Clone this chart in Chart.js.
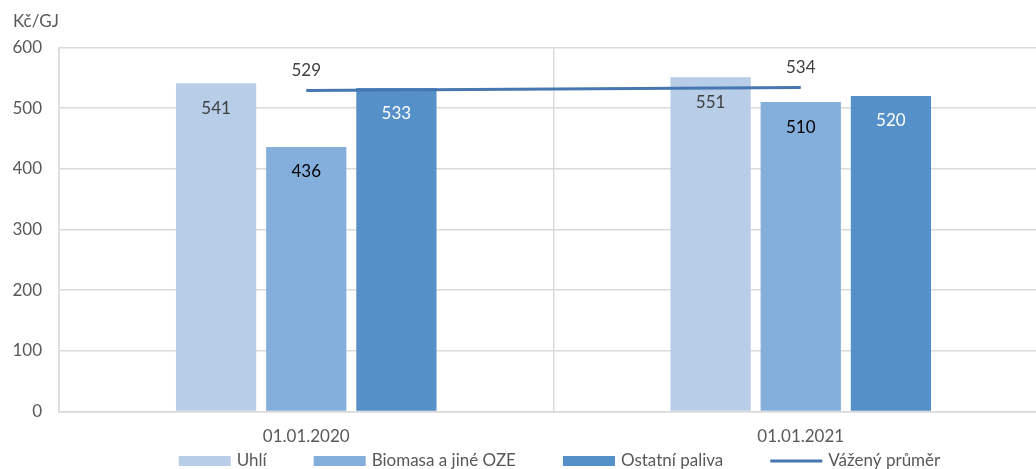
<!DOCTYPE html>
<html lang="cs">
<head>
<meta charset="utf-8">
<title>Cena tepla podle paliva</title>
<script src="https://cdn.jsdelivr.net/npm/chart.js@4/dist/chart.umd.min.js"></script>
<style>
  html, body { margin: 0; padding: 0; overflow: hidden; background: #ffffff; }
  #wrap { width: 1048px; height: 469px; position: relative; }
</style>
</head>
<body>
<div id="wrap"><canvas id="chart"></canvas></div>
<script>
// Kategorie (data) a hodnoty jednotlivých řad v Kč/GJ
const categories = ['01.01.2020', '01.01.2021'];
const uhli = [541, 551];
const biomasa = [436, 510];
const ostatniPaliva = [533, 520];
const vazenyPrumer = [529, 534];

const seriesNames = ['Uhlí', 'Biomasa a jiné OZE', 'Ostatní paliva', 'Vážený průměr'];
const yMin = 0;
const yMax = 600;
const yStep = 100;
const unitLabel = 'Kč/GJ';

const FONT = 'Lato, "Open Sans", sans-serif';
const FONT_SIZE = 17;
const TEXT_GREY = '#595959';
const GRID = '#dadada';

// Hodnoty zobrazené přímo u sloupců a u čáry průměru
const valueLabels = {
  id: 'valueLabels',
  afterDatasetsDraw(chart) {
    const ctx = chart.ctx;
    ctx.save();
    ctx.font = FONT_SIZE + 'px ' + FONT;
    ctx.textAlign = 'center';
    ctx.textBaseline = 'middle';
    chart.data.datasets.forEach((ds, di) => {
      const meta = chart.getDatasetMeta(di);
      meta.data.forEach((el, i) => {
        const v = ds.data[i];
        ctx.fillStyle = ds.labelColor;
        if (ds.type === 'line') {
          ctx.fillText(String(v), el.x, el.y - 20);
        } else {
          ctx.fillText(String(v), el.x, el.y + 25);
        }
      });
    });
    ctx.restore();
  }
};

// Legenda pod grafem: obdélníky pro sloupce, úsečka pro průměr
const bottomLegend = {
  id: 'bottomLegend',
  afterDraw(chart) {
    const ctx = chart.ctx;
    const boxW = 52, boxH = 10, gap = 6, itemPad = 47;
    const cy = chart.height - 8;
    ctx.save();
    ctx.font = FONT_SIZE + 'px ' + FONT;
    ctx.textBaseline = 'middle';
    const items = chart.data.datasets.map(ds => ({
      text: ds.label,
      color: ds.type === 'line' ? ds.borderColor : ds.backgroundColor,
      isLine: ds.type === 'line',
      w: boxW + gap + ctx.measureText(ds.label).width
    }));
    const total = items.reduce((s, it) => s + it.w, 0) + itemPad * (items.length - 1);
    const area = chart.chartArea;
    let x = (area.left + area.right) / 2 - total / 2 + 6;
    items.forEach(it => {
      if (it.isLine) {
        ctx.strokeStyle = it.color;
        ctx.lineWidth = 3;
        ctx.beginPath();
        ctx.moveTo(x, cy);
        ctx.lineTo(x + boxW, cy);
        ctx.stroke();
      } else {
        ctx.fillStyle = it.color;
        ctx.fillRect(x, cy - boxH / 2, boxW, boxH);
      }
      ctx.fillStyle = TEXT_GREY;
      ctx.textAlign = 'left';
      ctx.fillText(it.text, x + boxW + gap, cy);
      x += it.w + itemPad;
    });
    ctx.restore();
  }
};

new Chart(document.getElementById('chart'), {
  data: {
    labels: categories,
    datasets: [
      {
        type: 'bar',
        label: seriesNames[0],
        data: uhli,
        backgroundColor: '#b8cde8',
        order: 1,
        labelColor: '#404040'
      },
      {
        type: 'bar',
        label: seriesNames[1],
        data: biomasa,
        backgroundColor: '#84aedb',
        order: 1,
        labelColor: '#000000'
      },
      {
        type: 'bar',
        label: seriesNames[2],
        data: ostatniPaliva,
        backgroundColor: '#5590c9',
        order: 1,
        labelColor: '#ffffff'
      },
      {
        type: 'line',
        label: seriesNames[3],
        data: vazenyPrumer,
        borderColor: '#4677b0',
        borderWidth: 3,
        pointRadius: 0,
        fill: false,
        order: 0,
        labelColor: '#404040'
      }
    ]
  },
  options: {
    responsive: true,
    maintainAspectRatio: false,
    animation: false,
    datasets: {
      bar: { categoryPercentage: 0.547, barPercentage: 0.89 }
    },
    layout: { padding: { left: 13, right: 0, top: 0, bottom: 7 } },
    plugins: {
      legend: { display: false },
      tooltip: { enabled: false },
      title: {
        display: true,
        text: unitLabel,
        align: 'start',
        color: TEXT_GREY,
        font: { family: FONT, size: FONT_SIZE, weight: 'normal' },
        padding: { top: 11, bottom: 16 }
      }
    },
    scales: {
      x: {
        offset: true,
        grid: { offset: true, color: GRID, drawTicks: false, lineWidth: 1.5 },
        border: { color: GRID, width: 1.5 },
        ticks: { color: TEXT_GREY, font: { family: FONT, size: FONT_SIZE }, padding: 15 }
      },
      y: {
        min: yMin,
        max: yMax,
        afterFit(scale) { scale.width = 46; },
        grid: { color: GRID, drawTicks: false, lineWidth: 1.5 },
        border: { color: GRID, width: 1.5 },
        ticks: { stepSize: yStep, color: TEXT_GREY, font: { family: FONT, size: FONT_SIZE }, padding: 17 }
      }
    }
  },
  plugins: [valueLabels, bottomLegend]
});
</script>
</body>
</html>
